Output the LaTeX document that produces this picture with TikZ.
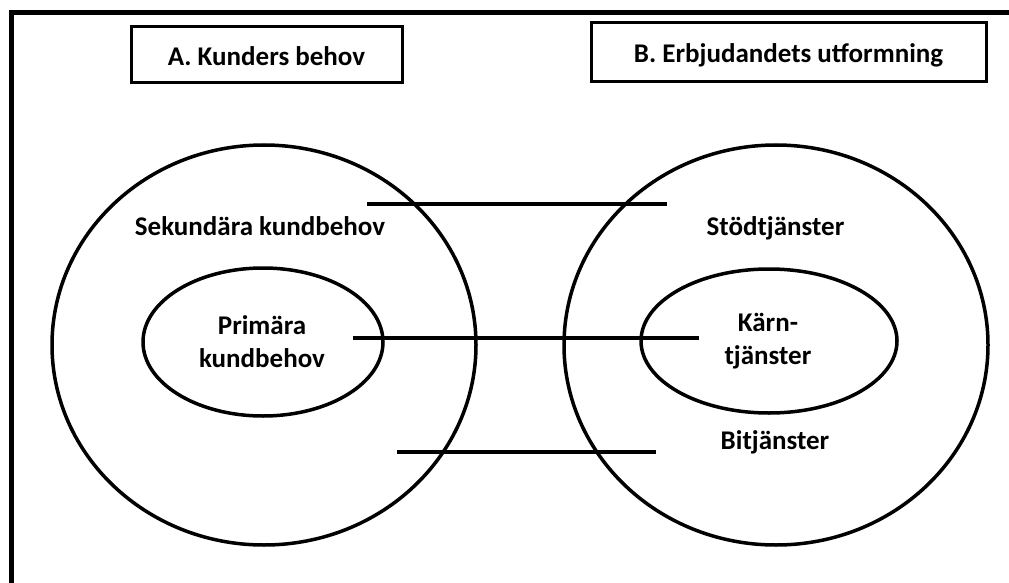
\documentclass[tikz,border=0pt]{standalone}
\usepackage{fontspec}
\setmainfont{Carlito}
\usetikzlibrary{positioning}

\begin{document}
\begin{tikzpicture}[x=1pt,y=-1pt,
  every node/.style={font=\fontsize{27}{33}\selectfont\bfseries},
  headbox/.style={draw,line width=3pt,inner sep=0pt,text height=20.5pt,text depth=0pt},
  ring/.style={line width=3.5pt},
  link/.style={line width=4.5pt},
  label/.style={align=center,inner sep=0pt}]
  \useasboundingbox (0,0) rectangle (1009,583);
  \clip (0,0) rectangle (1009,583);

  % outer frame (runs past the right and lower edges)
  \draw[line width=5pt] (11.5,12.5) rectangle (1100,700);

  % headings
  \node[headbox,minimum width=271pt,minimum height=56pt] (hA) at (266.5,55) {A. Kunders behov};
  \node[headbox,minimum width=395pt,minimum height=59pt] (hB) at (788.5,52.5) {B. Erbjudandets utformning};

  % needs: secondary (outer) and primary (inner)
  \coordinate (needs) at (264,345);
  \coordinate (core) at (263,342);
  \draw[ring] (needs) ellipse [x radius=212pt, y radius=200pt];
  \draw[ring] (core) ellipse [x radius=120pt, y radius=74pt];

  % offering: supporting/peripheral services (outer) and core services (inner)
  \coordinate (offer) at (776,345);
  \coordinate (kern) at (769,341);
  \draw[ring] (offer) ellipse [x radius=212pt, y radius=200pt];
  \draw[ring] (kern) ellipse [x radius=128pt, y radius=72pt];

  % texts
  \node[label,anchor=base] (sek) at (260,235) {Sekundära kundbehov};
  \node[label] (prim) at (262,342) {Primära\\kundbehov};
  \node[label,anchor=base] (stod) at (775.5,235) {Stödtjänster};
  \node[label] (karn) at (768,341.5) {Kärn-\\tjänster};
  \node[label,anchor=base] (bit) at (775,449) {Bitjänster};

  % links between the two sides
  \coordinate (t1) at (367,204);  \coordinate (t2) at (667,204);
  \coordinate (m1) at (353,338);  \coordinate (m2) at (699,338);
  \coordinate (b1) at (397,452);  \coordinate (b2) at (656,452);
  \draw[link] (t1) -- (t2);
  \draw[link] (m1) -- (m2);
  \draw[link] (b1) -- (b2);
\end{tikzpicture}
\end{document}
